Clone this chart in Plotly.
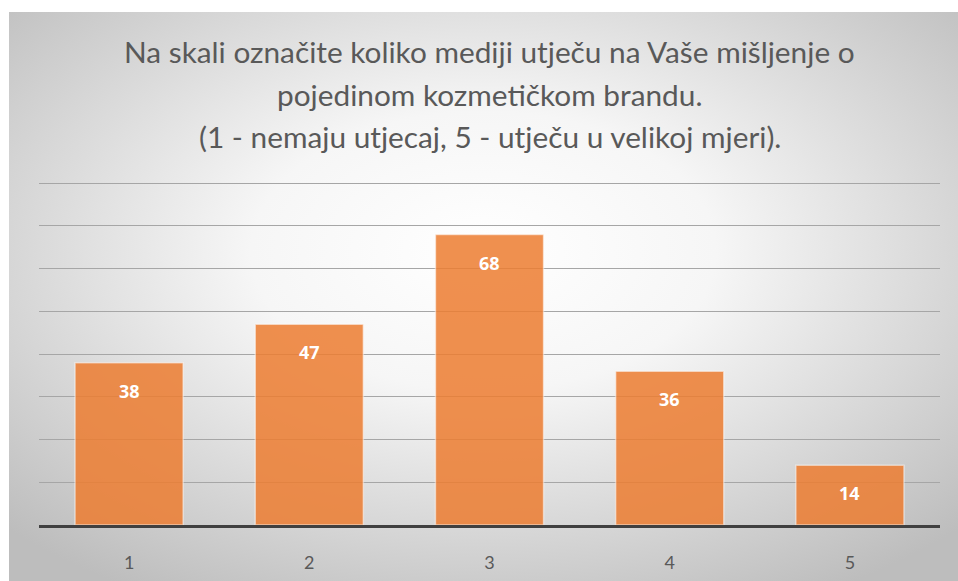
import base64
import plotly.graph_objects as go

categories = ["1", "2", "3", "4", "5"]
values = [38, 47, 68, 36, 14]
title_lines = [
    "Na skali označite koliko mediji utječu na Vaše mišljenje o",
    "pojedinom kozmetičkom brandu.",
    "(1 - nemaju utjecaj, 5 - utječu u velikoj mjeri).",
]

W, H = 958, 581
L, R, T, B = 39, 18, 179, 56
plot_w = W - L - R
plot_h = H - T - B

def px_to_paper_x(px):
    return (px - L) / plot_w

def px_to_paper_y(py):
    return (H - B - py) / plot_h

svg = (
    '<svg xmlns="http://www.w3.org/2000/svg" width="949" height="569" preserveAspectRatio="none">'
    '<defs><radialGradient id="g" cx="50%" cy="42%" r="70%" fx="50%" fy="42%">'
    '<stop offset="0%" stop-color="#ffffff"/>'
    '<stop offset="35%" stop-color="#f6f6f6"/>'
    '<stop offset="100%" stop-color="#bdbdbd"/>'
    '</radialGradient></defs>'
    '<rect width="949" height="569" fill="url(#g)"/></svg>'
)
src = "data:image/svg+xml;base64," + base64.b64encode(svg.encode()).decode()

fig = go.Figure()
fig.add_trace(go.Bar(
    x=categories, y=values,
    marker=dict(color="#ED7D31", opacity=0.85,
                line=dict(color="rgba(255,255,255,0.55)", width=1.5)),
    width=0.6,
    hoverinfo="skip",
))

annotations = []
for i, v in enumerate(values):
    annotations.append(dict(
        x=i, y=v, xref="x", yref="y", text=f"<b>{v}</b>", showarrow=False,
        yshift=-28, font=dict(family="Open Sans, sans-serif", size=18, color="white"),
    ))

for line, py in zip(title_lines, [51, 94, 136]):
    annotations.append(dict(
        x=0.5, y=px_to_paper_y(py), xref="paper", yref="paper", text=line,
        showarrow=False, xanchor="center", yanchor="middle",
        font=dict(family="Lato, sans-serif", size=29.8, color="#595959"),
    ))

fig.update_layout(
    width=W, height=H,
    margin=dict(l=L, r=R, t=T, b=B, autoexpand=False),
    paper_bgcolor="white",
    plot_bgcolor="rgba(0,0,0,0)",
    showlegend=False,
    annotations=annotations,
    images=[dict(
        source=src, xref="paper", yref="paper",
        x=px_to_paper_x(9), y=px_to_paper_y(12),
        sizex=(W - 9) / plot_w, sizey=(H - 12) / plot_h,
        xanchor="left", yanchor="top", sizing="stretch", layer="below",
    )],
    xaxis=dict(
        type="category",
        showline=True, linecolor="#404040", linewidth=3, showgrid=False,
        ticks="", ticklabelstandoff=19,
        tickfont=dict(family="Lato, sans-serif", size=18, color="#595959"),
    ),
    yaxis=dict(
        range=[0, 81], dtick=10, showticklabels=False, showgrid=True,
        gridcolor="#a6a6a6", gridwidth=1.3, zeroline=False, ticks="",
    ),
)

fig.write_html("out.html", config={"displayModeBar": False},
               post_script="document.body.style.margin='0';document.body.style.padding='0';")
